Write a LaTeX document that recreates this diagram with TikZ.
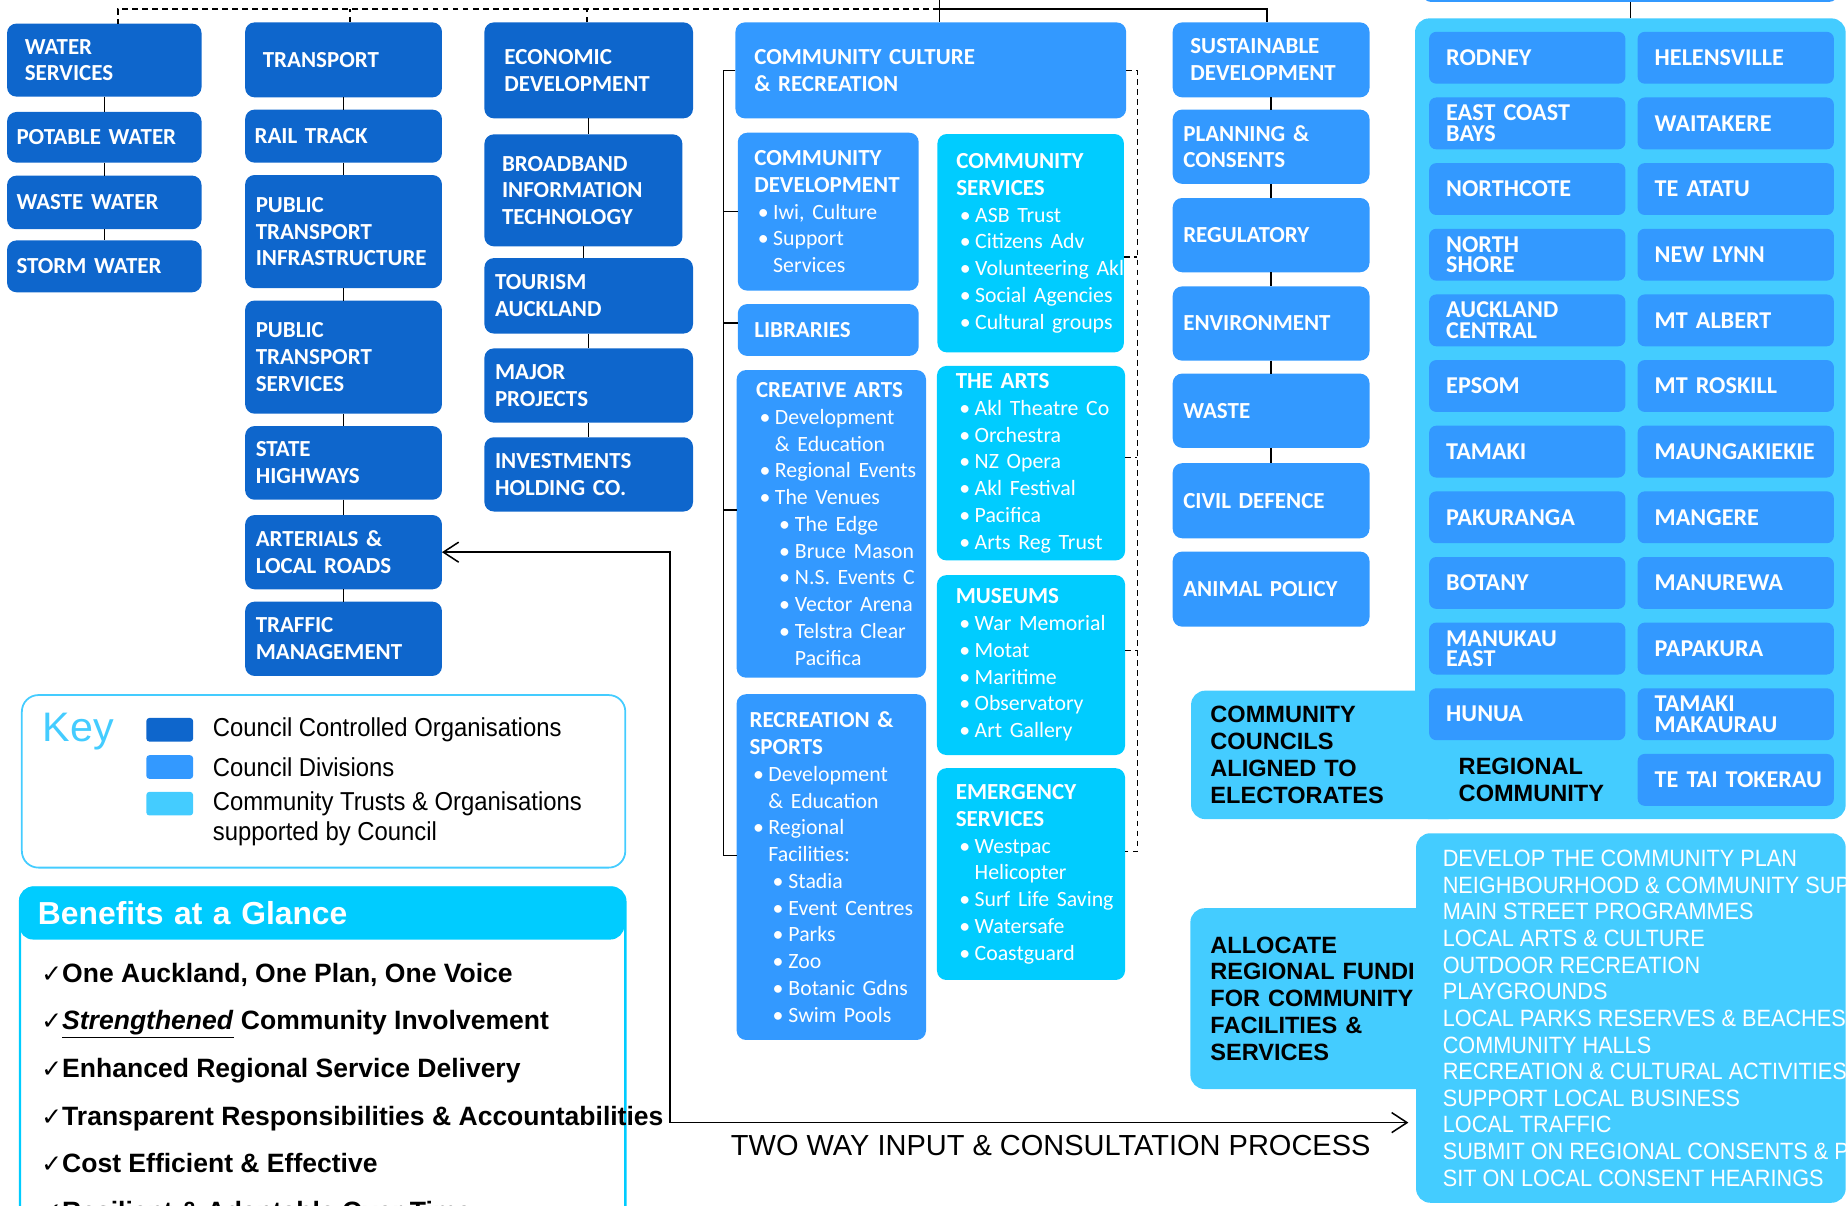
\documentclass[tikz,border=0pt]{standalone}
\usepackage{fontspec}
\setmainfont{Liberation Sans}
\newfontfamily\calib{Carlito}
\newfontfamily\narrow[FakeStretch=0.92]{Liberation Sans}
\newfontfamily\dejavu{DejaVu Sans}
\usetikzlibrary{positioning,arrows.meta}
\definecolor{ccoblue}{RGB}{14,102,204}
\definecolor{divblue}{RGB}{51,153,255}
\definecolor{trustcyan}{RGB}{0,204,255}
\definecolor{lightcyan}{RGB}{68,204,255}
\setlength{\parindent}{0pt}
\hyphenpenalty=10000
\exhyphenpenalty=10000
\newcommand{\bul}{\mdseries\fontsize{18.5}{22.7}\selectfont\hspace*{3pt}\makebox[13pt][l]{\textbullet}}
\newcommand{\bcont}{\mdseries\fontsize{18.5}{22.7}\selectfont\hspace*{16pt}}
\newcommand{\sbul}{\mdseries\fontsize{18.5}{22.7}\selectfont\hspace*{19.5pt}\makebox[13.5pt][l]{\textbullet}}
\newcommand{\scont}{\mdseries\fontsize{18.5}{22.7}\selectfont\hspace*{33pt}}
\newcommand{\chk}{{\dejavu\mdseries\fontsize{21}{21}\selectfont ✓}}
\tikzset{
  box/.style={rounded corners=8pt, anchor=north west, outer sep=0pt, inner ysep=0pt, align=left, text=white, font=\calib\bfseries\fontsize{19.5}{22.7}\selectfont},
  cco/.style={box, fill=ccoblue},
  div/.style={box, fill=divblue},
  trust/.style={box, fill=trustcyan},
  c1/.style={cco, inner xsep=8pt, text width=149pt},
  c2/.style={cco, inner xsep=9pt, text width=149pt},
  c3/.style={cco, inner xsep=9pt, text width=159pt},
  c5/.style={div, inner xsep=9pt, text width=149pt},
  elect/.style={div, rounded corners=6pt, minimum height=44pt, inner xsep=14.5pt, text width=137.5pt, font=\calib\bfseries\fontsize{20.5}{17.5}\selectfont},
  panel/.style={fill=lightcyan, rounded corners=12pt, anchor=north west, outer sep=0pt, inner sep=0pt},
  blacktext/.style={align=left, text=black, font=\bfseries\fontsize{20}{22.7}\selectfont},
  swatch/.style={anchor=north west, minimum width=39.6pt, minimum height=20pt, inner sep=0pt, rounded corners=2.5pt},
  keytext/.style={inner sep=0pt, align=left, font=\narrow\fontsize{22}{25}\selectfont},
  benefit/.style={anchor=base west, inner sep=0pt, font=\bfseries\fontsize{22.5}{25}\selectfont},
  link/.style={line width=1.2pt},
  dashlink/.style={line width=1.2pt, dash pattern=on 5pt off 3.5pt},
  twoway/.style={line width=1.3pt, {Straight Barb[length=13pt,width=17pt]}-{Straight Barb[length=13pt,width=17pt]}}
}
\begin{document}
\begin{tikzpicture}[x=1pt, y=-1pt]
\useasboundingbox (0,0) rectangle (1568,1023);
% council controlled organisations
\node[c1, inner xsep=15pt, text width=135pt, minimum height=62pt] (water) at (6,20) {WATER\\SERVICES};
\node[c1, minimum height=43pt] (potable) at (6,95) {POTABLE WATER};
\node[c1, minimum height=45.5pt] (wastew) at (6,149) {WASTE WATER};
\node[c1, minimum height=44pt] (storm) at (6,204) {STORM WATER};
\node[c2, inner xsep=15pt, text width=137pt, minimum height=63.6pt] (transport) at (208,19) {TRANSPORT};
\node[c2, inner xsep=8pt, text width=151pt, minimum height=45pt] (rail) at (208,93) {RAIL TRACK};
\node[c2, minimum height=96pt] (ptinfra) at (208,148.5) {PUBLIC\\TRANSPORT\\INFRASTRUCTURE};
\node[c2, minimum height=96pt] (ptserv) at (208,255) {PUBLIC\\TRANSPORT\\SERVICES};
\node[c2, minimum height=62.5pt] (highways) at (208,361.5) {STATE\\HIGHWAYS};
\node[c2, minimum height=63pt] (arterial) at (208,437) {ARTERIALS \&\\LOCAL ROADS};
\node[c2, minimum height=63pt] (traffic) at (208,510.5) {TRAFFIC\\MANAGEMENT};
\node[c3, inner xsep=17pt, text width=143pt, minimum height=81.4pt] (econ) at (411,19) {ECONOMIC\\DEVELOPMENT};
\node[c3, inner xsep=15pt, text width=138pt, minimum height=95pt] (broadband) at (411,114) {BROADBAND\\INFORMATION\\TECHNOLOGY};
\node[c3, minimum height=64pt] (tourism) at (411,219) {TOURISM\\AUCKLAND};
\node[c3, minimum height=63pt] (major) at (411,295.6) {MAJOR\\PROJECTS};
\node[c3, minimum height=63pt] (invest) at (411,371) {INVESTMENTS\\HOLDING CO.};
% community culture and recreation
\node[div, inner xsep=16pt, text width=299.5pt, minimum height=81.4pt] (ccr) at (624,19) {COMMUNITY CULTURE\\\& RECREATION};
\node[div, inner xsep=14pt, text width=125.5pt, minimum height=134pt] (commdev) at (626,112.6) {COMMUNITY\\DEVELOPMENT\\\bul Iwi,~Culture\\\bul Support\\\bcont Services};
\node[div, inner xsep=14pt, text width=125.5pt, minimum height=44pt] (libraries) at (626,258) {LIBRARIES};
\node[trust, inner xsep=16pt, text width=126.2pt, minimum height=185.3pt] (commserv) at (795.4,113.7) {COMMUNITY\\SERVICES\\\bul ASB~Trust\\\bul Citizens~Adv\\\bul Volunteering~Akl\\\bul Social~Agencies\\\bul Cultural~groups};
\node[div, inner xsep=16.5pt, text width=127.7pt, minimum height=261pt] (creative) at (625,314) {CREATIVE~ARTS\\\bul Development\\\bcont \&~Education\\\bul Regional~Events\\\bul The~Venues\\\sbul The~Edge\\\sbul Bruce~Mason\\\sbul N.S.~Events~C\\\sbul Vector~Arena\\\sbul Telstra~Clear\\\scont Pacifica};
\node[trust, inner xsep=16pt, text width=127.6pt, minimum height=165pt] (thearts) at (795,310.5) {THE~ARTS\\\bul Akl~Theatre~Co\\\bul Orchestra\\\bul NZ~Opera\\\bul Akl~Festival\\\bul Pacifica\\\bul Arts~Reg~Trust};
\node[trust, inner xsep=16pt, text width=127.6pt, minimum height=152.6pt] (museums) at (795,488) {MUSEUMS\\\bul War~Memorial\\\bul Motat\\\bul Maritime\\\bul Observatory\\\bul Art~Gallery};
\node[div, inner xsep=11pt, text width=138.7pt, minimum height=293.4pt] (recsport) at (625,589) {RECREATION~\&\\SPORTS\\\bul Development\\\bcont \&~Education\\\bul Regional\\\bcont Facilities:\\\sbul Stadia\\\sbul Event~Centres\\\sbul Parks\\\sbul Zoo\\\sbul Botanic~Gdns\\\sbul Swim~Pools};
\node[trust, inner xsep=16pt, text width=127.6pt, minimum height=179.7pt] (emergency) at (795,651.8) {EMERGENCY\\SERVICES\\\bul Westpac\\\bcont Helicopter\\\bul Surf~Life~Saving\\\bul Watersafe\\\bul Coastguard};
% sustainable development
\node[c5, inner xsep=15pt, text width=137pt, minimum height=63.6pt] (sustain) at (995,19) {SUSTAINABLE\\DEVELOPMENT};
\node[c5, minimum height=63pt] (planning) at (995,93) {PLANNING \&\\CONSENTS};
\node[c5, minimum height=63pt] (regulatory) at (995,168) {REGULATORY};
\node[c5, minimum height=63pt] (environment) at (995,243) {ENVIRONMENT};
\node[c5, minimum height=63pt] (waste) at (995,317) {WASTE};
\node[c5, minimum height=63.7pt] (civil) at (995,393) {CIVIL DEFENCE};
\node[c5, minimum height=63.7pt] (animal) at (995,468) {ANIMAL POLICY};
% community councils
\node[div, rounded corners=6pt, anchor=south west, minimum width=351pt, minimum height=30pt, inner sep=0pt] (above) at (1207.6,1.5) {};
\node[panel, minimum width=365.4pt, minimum height=679.4pt] (region) at (1200.6,15.6) {};
\node[panel, blacktext, minimum height=109pt, inner xsep=16.4pt, text width=196.6pt] (councils) at (1010.6,586) {COMMUNITY\\COUNCILS\\ALIGNED TO\\ELECTORATES};
\foreach \ward [count=\i from 0] in {RODNEY, EAST COAST\\BAYS, NORTHCOTE, NORTH\\SHORE, AUCKLAND\\CENTRAL, EPSOM, TAMAKI, PAKURANGA, BOTANY, MANUKAU\\EAST, HUNUA}
  \node[elect] (wardl\i) at (1212.6, 27+55.7*\i) {\ward};
\foreach \ward [count=\i from 0] in {HELENSVILLE, WAITAKERE, TE ATATU, NEW LYNN, MT ALBERT, MT ROSKILL, MAUNGAKIEKIE, MANGERE, MANUREWA, PAPAKURA, TAMAKI\\MAKAURAU, TE~TAI~TOKERAU}
  \node[elect] (wardr\i) at (1389.5, 27+55.7*\i) {\ward};
\node[blacktext, anchor=west, inner sep=0pt] (regcomm) at (1237.5,661.7) {REGIONAL\\COMMUNITY};
\node[panel, blacktext, minimum height=153.4pt, inner xsep=17pt, text width=195pt] (allocate) at (1010,770.6) {ALLOCATE\\REGIONAL FUNDI\\FOR COMMUNITY\\FACILITIES \&\\SERVICES};
\node[panel, minimum width=364.5pt, minimum height=313.5pt] (list) at (1201.5,707) {};
\node[anchor=west, inner sep=0pt, align=left, text=white, font=\narrow\fontsize{20}{22.6}\selectfont] (listtext) at (1224,864) {DEVELOP THE COMMUNITY PLAN\\NEIGHBOURHOOD \& COMMUNITY SUPP\\MAIN STREET PROGRAMMES\\LOCAL ARTS \& CULTURE\\OUTDOOR RECREATION\\PLAYGROUNDS\\LOCAL PARKS RESERVES \& BEACHES\\COMMUNITY HALLS\\RECREATION \& CULTURAL ACTIVITIES\\SUPPORT LOCAL BUSINESS\\LOCAL TRAFFIC\\SUBMIT ON REGIONAL CONSENTS \& PL\\SIT ON LOCAL CONSENT HEARINGS};
% key
\node[draw=lightcyan, line width=1.5pt, rounded corners=14pt, anchor=north west, minimum width=512pt, minimum height=146.4pt, inner sep=0pt] (keybox) at (17.8,589) {};
\node[anchor=base west, inner sep=0pt, text=lightcyan, font=\fontsize{35}{35}\selectfont] (keytitle) at (36,629) {Key};
\node[swatch, fill=ccoblue] (sw1) at (124,609) {};
\node[swatch, fill=divblue] (sw2) at (124,640.6) {};
\node[swatch, fill=lightcyan] (sw3) at (124,671.7) {};
\node[keytext, right=16.4pt of sw1] (sw1txt) {Council Controlled Organisations};
\node[keytext, right=16.4pt of sw2] (sw2txt) {Council Divisions};
\node[keytext, right=16.4pt of sw3.north east, anchor=north west] (sw3txt) {Community Trusts \& Organisations\\supported by Council};
% benefits
\node[draw=trustcyan, line width=2pt, rounded corners=12pt, anchor=north west, minimum width=513.6pt, minimum height=320pt, inner sep=0pt] (benbody) at (16,752) {};
\node[fill=trustcyan, rounded corners=12pt, anchor=north west, minimum height=45pt, inner xsep=16pt, text width=481.6pt, align=left, text=white, font=\bfseries\fontsize{27}{30}\selectfont] (benhead) at (16,752) {Benefits at a Glance};
\foreach \ben [count=\i] in {{One Auckland, One Plan, One Voice}, {\underline{\textit{Strengthened}} Community Involvement}, Enhanced Regional Service Delivery, Transparent Responsibilities \& Accountabilities, Cost Efficient \& Effective, Resilient \& Adaptable Over Time}
  \node[benefit] (ben\i) at (35, 792.9+40.45*\i) {\chk\ben};
% connectors
\coordinate (hub) at (797,7.5);
\coordinate (parent) at (797,-10);
\coordinate (lbar) at (613.7,0);
\coordinate (rbar) at (965,0);
\draw[dashlink] (hub) -| ([xshift=11.5pt]water.north);
\draw[dashlink] ([xshift=5.5pt]transport.north) -- ([xshift=5.5pt]transport.north |- hub);
\draw[dashlink] ([xshift=-1.5pt]econ.north) -- ([xshift=-1.5pt]econ.north |- hub);
\draw[link] (parent) -- (hub) -- (hub |- ccr.north);
\draw[link] (hub) -| ([xshift=-3.5pt]sustain.north);
\draw[link] (region.north) -- (region.north |- above.south);
\foreach \a/\b in {water/potable, potable/wastew, wastew/storm, transport/rail, rail/ptinfra, ptinfra/ptserv, ptserv/highways, highways/arterial, arterial/traffic, econ/broadband, broadband/tourism, tourism/major, major/invest, sustain/planning, planning/regulatory, regulatory/environment, environment/waste, waste/civil}
  \draw[link] (\a.south -| \a) -- (\a |- \b.north);
\draw[link] (ccr.west) -- (ccr.west -| lbar) |- ([yshift=9.7pt]recsport.west);
\draw[link] (commdev.west -| lbar) -- (commdev.west);
\draw[link] ([yshift=6pt]libraries.west -| lbar) -- ([yshift=6pt]libraries.west);
\draw[link] ([yshift=11.8pt]creative.west -| lbar) -- ([yshift=11.8pt]creative.west);
\draw[dashlink] (ccr.east) -- (ccr.east -| rbar) |- ([yshift=19pt]emergency.east);
\draw[dashlink] ([yshift=-11.6pt]commserv.east) -- ([yshift=-11.6pt]commserv.east -| rbar);
\draw[dashlink] ([yshift=5pt]thearts.east) -- ([yshift=5pt]thearts.east -| rbar);
\draw[dashlink] ([yshift=12.3pt]museums.east) -- ([yshift=12.3pt]museums.east -| rbar);
\coordinate (turn) at (568.5,952.5);
\draw[twoway] (arterial.east) -| (turn) -- ([xshift=-6.5pt]turn -| list.west);
\node[inner sep=0pt, font=\fontsize{24.6}{28}\selectfont] (process) at (891.5,972) {TWO WAY INPUT \& CONSULTATION PROCESS};
\end{tikzpicture}
\end{document}
